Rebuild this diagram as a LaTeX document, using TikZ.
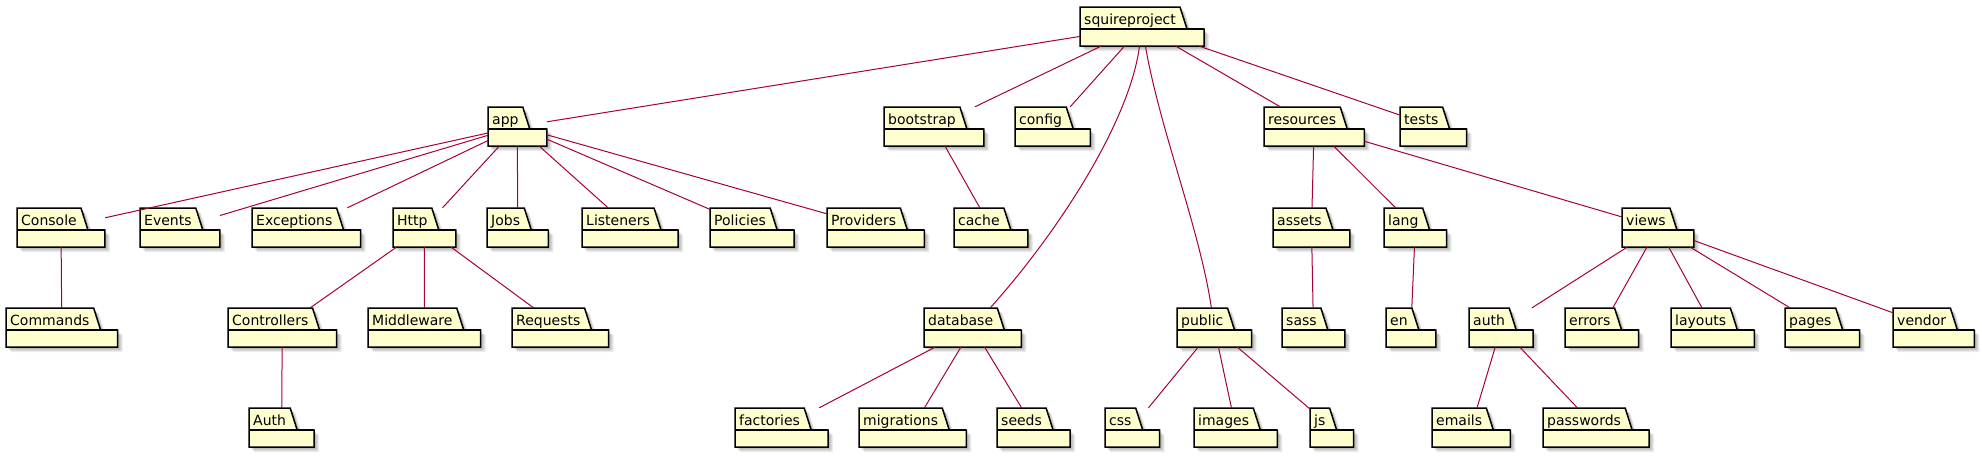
\documentclass[tikz,border=0pt]{standalone}
\usepackage{fontspec}
\setmainfont{DejaVu Sans}
\usetikzlibrary{calc,fit}
\definecolor{pkgfill}{HTML}{FEFECE}
\definecolor{edgecol}{HTML}{A80036}
\tikzset{
  pkglabel/.style={inner sep=0pt, anchor=base west, font=\fontsize{14}{16}\selectfont},
  pkgbox/.style={inner sep=0pt, draw=none},
  pkgline/.style={draw=black, line width=1.5pt, fill=pkgfill, line join=miter},
  pkgshadow/.style={fill=black, opacity=0.07, draw=none},
  edge/.style={draw=edgecol, line width=1pt},
}
\newcommand\pkgshape[1]{(#1-a) -- (#1-c) -- (#1-d) -- (#1-f) -- (#1-b) -- (#1-g) -- cycle}
\newcommand\pkg[4]{%
  \coordinate (#1-a) at (#2,#3);
  \node[pkglabel] (#1-t) at (#2+4,#3+17) {#4};
  \path let \p1=(#1-t.east), \p2=(#1-a) in
    coordinate (#1-c) at (\x1+4pt,\y2)
    coordinate (#1-d) at (\x1+11pt,\y2-22pt)
    coordinate (#1-e) at (\x2,\y2-22pt)
    coordinate (#1-f) at (\x1+28pt,\y2-22pt)
    coordinate (#1-b) at (\x1+28pt,\y2-39pt)
    coordinate (#1-g) at (\x2,\y2-39pt);
  \node[pkgbox, fit=(#1-a)(#1-b)] (#1) {};
  \foreach \s in {2,3,4,5}{
    \fill[pkgshadow, transform canvas={shift={(\s pt,-\s pt)}}] \pkgshape{#1};
  }
  \path[pkgline] \pkgshape{#1};
  \draw[black, line width=1.5pt] (#1-e) -- (#1-f);
  \node[pkglabel] at (#2+4,#3+17) {#4};
}
\begin{document}
\begin{tikzpicture}[x=1pt,y=-1pt]
\useasboundingbox[fill=white] (0,0) rectangle (1982,458);
% row 0
\pkg{squireproject}{1080}{7}{squireproject}
% row 1
\pkg{app}{488}{107}{app}
\pkg{bootstrap}{884}{107}{bootstrap}
\pkg{config}{1015}{107}{config}
\pkg{resources}{1264}{107}{resources}
\pkg{tests}{1400}{107}{tests}
% row 2
\pkg{Console}{17}{208}{Console}
\pkg{Events}{140}{208}{Events}
\pkg{Exceptions}{252}{208}{Exceptions}
\pkg{Http}{393}{208}{Http}
\pkg{Jobs}{487}{208}{Jobs}
\pkg{Listeners}{582}{208}{Listeners}
\pkg{Policies}{710}{208}{Policies}
\pkg{Providers}{827}{208}{Providers}
\pkg{cache}{954}{208}{cache}
\pkg{assets}{1273}{208}{assets}
\pkg{lang}{1384}{208}{lang}
\pkg{views}{1622}{208}{views}
% row 3
\pkg{Commands}{6}{308}{Commands}
\pkg{Controllers}{228}{308}{Controllers}
\pkg{Middleware}{368}{308}{Middleware}
\pkg{Requests}{512}{308}{Requests}
\pkg{database}{924}{308}{database}
\pkg{public}{1177}{308}{public}
\pkg{sass}{1282}{308}{sass}
\pkg{en}{1386}{308}{en}
\pkg{authv}{1469}{308}{auth}
\pkg{errors}{1565}{308}{errors}
\pkg{layouts}{1671}{308}{layouts}
\pkg{pages}{1785}{308}{pages}
\pkg{vendor}{1893}{308}{vendor}
% row 4
\pkg{Auth}{249}{408}{Auth}
\pkg{factories}{735}{408}{factories}
\pkg{migrations}{859}{408}{migrations}
\pkg{seeds}{997}{408}{seeds}
\pkg{css}{1105}{408}{css}
\pkg{images}{1194}{408}{images}
\pkg{js}{1310}{408}{js}
\pkg{emails}{1432}{408}{emails}
\pkg{passwords}{1543}{408}{passwords}
% edges
\foreach \c in {app,bootstrap,config,resources,tests}{
  \draw[edge] (squireproject) -- (\c);
}
\draw[edge] (squireproject) .. controls (1130,120) and (1060,230) .. (database);
\draw[edge] (squireproject) .. controls (1160,130) and (1200,230) .. (public);
\foreach \c in {Console,Events,Exceptions,Http,Jobs,Listeners,Policies,Providers}{
  \draw[edge] (app) -- (\c);
}
\draw[edge] (bootstrap) -- (cache);
\foreach \c in {assets,lang,views}{\draw[edge] (resources) -- (\c);}
\draw[edge] (Console) -- (Commands);
\foreach \c in {Controllers,Middleware,Requests}{\draw[edge] (Http) -- (\c);}
\draw[edge] (Controllers) -- (Auth);
\draw[edge] (assets) -- (sass);
\draw[edge] (lang) -- (en);
\foreach \c in {authv,errors,layouts,pages,vendor}{\draw[edge] (views) -- (\c);}
\foreach \c in {factories,migrations,seeds}{\draw[edge] (database) -- (\c);}
\foreach \c in {css,images,js}{\draw[edge] (public) -- (\c);}
\foreach \c in {emails,passwords}{\draw[edge] (authv) -- (\c);}
\end{tikzpicture}
\end{document}
